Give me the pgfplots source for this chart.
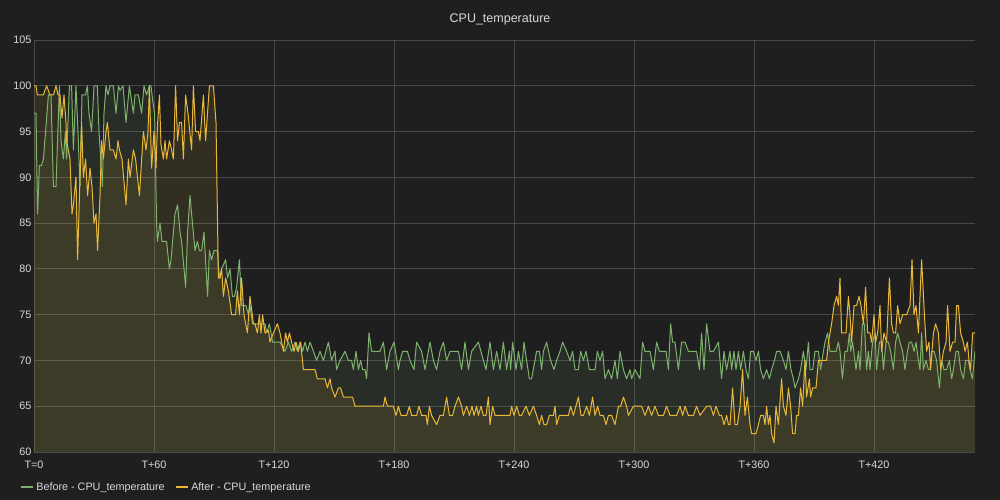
\documentclass[border=0pt]{standalone}
\usepackage{pgfplots}
\pgfplotsset{compat=1.18}
\usepackage{fontspec}
\setmainfont{Liberation Sans}
\definecolor{bg}{HTML}{1F1F20}
\definecolor{gridc}{HTML}{48484A}
\definecolor{txt}{HTML}{D8D9DA}
\definecolor{cgreen}{HTML}{7EB26D}
\definecolor{cyellow}{HTML}{EAB839}

\begin{document}
\begin{tikzpicture}[x=1pt,y=1pt]
\path[use as bounding box,fill=bg] (0,0) rectangle (1000,500);
\node[text=txt,font=\fontsize{12.5}{14}\selectfont] at (500,480.5) {CPU\_temperature};
\begin{axis}[
  at={(34pt,48pt)}, anchor=south west,
  scale only axis, width=941pt, height=412pt,
  xmin=0, xmax=470.5, ymin=60, ymax=105,
  axis line style={draw=none},
  tick style={draw=none},
  grid=major,
  major grid style={gridc, line width=0.8pt},
  xtick={0,60,120,180,240,300,360,420},
  xticklabels={T=0,T+60,T+120,T+180,T+240,T+300,T+360,T+420},
  ytick={60,65,...,105},
  /pgf/number format/assume math mode=true,
  ticklabel style={text=txt, font=\fontsize{10.8}{12}\selectfont},
  yticklabel style={xshift=1pt},
  xticklabel style={yshift=-5pt},
  legend columns=2,
  legend cell align=left,
  legend style={at={(-0.0185,-0.085)}, anchor=west, draw=none, fill=none,
    text=txt, font=\fontsize{10.8}{12}\selectfont,
    /tikz/every even column/.append style={column sep=8pt}},
  legend image code/.code={\draw[line width=2.5pt,#1] (0pt,0pt) -- (12pt,0pt);},
]
\pgfplotsset{
  before/.style={cgreen, line width=1pt, line join=round},
  after/.style={cyellow, line width=1pt, line join=round},
}
\def\before{(0,97) (1,97) (1.8,86) (2.7,91.3) (3.8,91.3) (4.7,92) (5.8,95) (7.2,99) (8.5,99) (9.7,89) (11,89) (12.7,100) (13.5,94) (14.7,92) (15.7,95) (16.3,92) (17.7,100) (18.8,100) (19.7,93) (21,100) (22,95) (23,89) (24,99) (25.7,99) (26.7,100) (27.5,97) (28.8,95) (30,100) (31.7,100) (32.5,95) (34.2,89) (35,97) (36,100) (37,99) (38,100) (39.7,100) (41,97) (42.2,100) (43,99.5) (44.5,100) (46,96) (47.7,100) (49.7,97) (50.5,99) (52.2,99) (53.8,97) (55,100) (56.3,99) (57.7,100) (58.5,100) (59.3,98.5) (60.3,97) (61.3,85) (61.7,83) (63,85) (64,83) (66.3,83) (67.7,80) (68.5,81) (70.5,86) (71.8,87) (73,84) (73.8,83) (75.8,78) (76.8,84) (78,88) (78.8,86) (80.5,82) (81.7,83) (82.7,82) (83.8,82) (85,84) (86.8,77) (87.7,82) (88.8,81) (90,82) (91.7,82) (92.7,79) (93.8,80) (95.8,81) (96.8,79) (98,80) (99.2,77) (100.2,77) (101.3,78) (102.7,81) (103.8,76) (106,76) (107.2,75) (108,76) (109.3,74) (110.5,74) (112.2,74) (113.8,74) (115.5,74) (116.3,73) (117.7,74) (118.5,73) (119.3,72) (121.3,72) (123,72) (125.5,71) (127.2,72) (128.8,71) (130.5,72) (131.7,71) (133,72) (134.3,71) (135.5,72) (136.7,71) (138,72) (139.7,71) (141.3,70) (143,71) (144.7,70) (147.2,72) (148.8,70) (150.5,71) (151.3,69) (153,70) (155.5,71) (157.2,70) (158.8,70) (159.7,69) (161,71) (162.2,69) (163.3,70) (164.3,69) (165.5,69) (166.3,68) (167.5,73) (168.8,71) (173,71) (174.7,72) (176.3,69) (178,71) (180,72) (182.2,69) (183,70) (184.3,71) (186.7,71) (188,70) (190,69) (191.3,72) (193.8,71) (195.5,69) (198,72) (199.7,70) (201.3,69) (203,71) (204.7,72) (206.3,70) (208,71) (212.2,71) (213.8,69) (215.5,72) (217.2,69) (218.8,71) (222.2,72) (224.7,70) (226,69) (228,72) (229.7,69) (231.3,71) (233,69) (234.7,72) (236.3,69) (237.7,71) (238.3,69) (239.3,72) (241,69) (242.2,71) (243.8,69) (245,72) (246.3,70) (247.7,68) (248.8,68) (251.3,71) (252.7,71) (253.8,69) (254.7,71) (256.3,72) (258.3,70) (260,69) (261.3,70) (263,71) (264.3,72) (266.3,71) (268,70) (269.3,71) (270.5,69) (272.2,69) (273.3,71) (274.7,70) (276,71) (277.7,69) (280.5,69) (281.7,71) (283,70) (284.3,71) (285.5,68) (287.2,69) (288.8,68) (290.5,70) (291.7,68) (293,71) (294.7,69) (296.3,68) (298,69) (298.8,68) (300.5,69) (303,68) (304.3,72) (305.5,71) (308,71) (309.7,69) (311.3,72) (312.7,71) (316,71) (317.2,69) (318.3,74) (319.3,72) (320.5,72) (322.2,69) (323.8,72) (325.5,72) (327.2,71) (331.3,71) (332.7,69) (333.8,73) (335,69) (336.3,74) (338,71) (339.7,71) (342.2,72) (343.8,68) (345,71) (346.3,69) (348,71) (348.8,69) (350,71) (351,69) (352.2,71) (353.3,69) (354.7,71) (356,69) (357.2,68) (358.3,71) (359.7,71) (361,70) (362.2,71) (363.3,69) (364.7,68) (366.3,69) (367.7,68) (368.8,69) (370.2,70) (371.3,71) (373,71) (374.7,70) (376,69) (377.2,71) (378.5,69) (379.7,68) (380.5,67) (382.2,68) (383.3,69) (384.7,71) (386,69) (387.2,72) (388,69) (389.3,69) (390.5,71) (392.2,71) (393.3,69) (394.7,71) (395.5,72) (396.8,73) (398,71) (400,71) (401,71) (402.2,72) (403,71) (404.2,68) (405.5,71) (406.7,71) (407.7,73) (408.3,71) (409.3,72) (411,69) (412.2,71) (413,69) (414.2,74) (415.2,74) (416.3,69) (417.2,71) (418,69) (419.3,72) (420.5,73) (421.3,69) (422.7,72) (423.8,72) (424.7,69) (426,72) (427.2,72) (428.3,71) (429.7,69) (430.8,72) (431.8,73) (433,72) (434.3,71) (435.5,69) (436.7,71) (437.7,72) (438.8,72) (440,71) (441,72) (442.2,70) (443,69) (443.8,73) (444.7,69) (446,70) (447.2,69) (448,69) (448.8,71) (450,71) (451.3,70) (452.7,67) (453.8,70) (455,69) (456.3,69) (457.7,70) (458.8,68) (459.7,69) (461,71) (462.2,71) (463.3,69) (464.7,68) (465.8,70) (467.2,70) (468,69) (469.2,68) (470.5,71)}
\def\after{(0,100) (1,100) (1.7,99) (4.7,99) (6.3,100) (8,99) (9.7,99) (11,100) (12,99) (13,99) (14,96.5) (15,99) (16,96) (16.3,94) (18,92) (19,86) (19.7,87) (21,90) (21.8,81) (23,90) (23.8,96) (24.7,90) (25.8,92) (26.8,88) (28,91) (29,89) (30,85) (31,86) (31.8,82) (33,88) (33.8,94) (34.7,92) (36,95) (36.7,96) (38,93) (39.7,93) (41,92) (42,94) (42.7,93) (44,92) (46,87) (47.2,92) (48,90) (49.7,93) (50.8,92) (52.7,88) (54.7,95) (56,93) (57,95) (57.7,100) (58.8,91) (60,95) (61,91) (61.7,95.5) (62.7,99) (63.5,93.6) (64.7,92) (65.5,94) (66.3,92) (67.7,94) (68.8,93) (69.7,92) (70.8,100) (71.8,94) (72.7,96) (73.8,96) (74.7,92) (75.8,99) (77,97) (78.8,93) (79.7,100) (80.8,95) (82.2,95) (83,94) (84.7,99) (85.8,94) (87.7,100) (89.7,100) (91,96) (92.2,79) (93,79) (93.8,80) (94.7,77) (95.8,79) (97.2,77.6) (98.8,75) (100.8,75) (101.7,77.6) (102.7,75) (103.8,79) (105,75) (106.7,73) (108,77) (109.7,74) (110.5,74) (111.7,73) (112.7,75) (113.5,73) (114.3,75) (115.5,73) (117.2,73.3) (118,72) (119.7,73) (121.7,74) (123,73) (124.7,71) (125.8,73) (126.7,72) (127.7,73) (128.8,72) (130,71) (131,72) (132.2,71) (133.3,72) (134.7,69) (140.5,69) (141.7,68) (145.5,68) (146.7,67) (148,68) (148.8,67) (150.5,66) (152.2,67) (153.3,67) (154.7,66) (159.3,66) (160.5,65) (174.7,65) (175.5,66) (176.7,65) (179.7,65) (181,64) (182.2,65) (183.5,64) (186.3,64) (187.7,65) (188.8,64) (191.3,64) (192.5,65) (193.8,64) (196,64) (196.7,63) (197.7,65) (198.8,64) (201.3,63) (203,64) (204.7,64) (206.3,66) (207.7,64) (209.3,64) (210.5,65) (212.2,66) (213.8,65) (214.7,64) (216.3,65) (217.7,64) (219,65) (220,64) (221.3,65) (222.2,64) (223.5,65) (224.7,64) (226,64) (227.2,66) (228,63) (229.3,65) (230.5,64) (238,64) (238.8,65) (240,64) (241.3,65) (242.7,64) (243.8,64) (246,65) (247.7,64) (249.7,65) (251.3,64) (252.7,63) (253.8,64) (255,63) (256.3,63) (257.7,64) (259.7,64) (260.5,65) (261.3,63) (262.7,64) (267.2,64) (268.3,65) (269.7,64) (272.2,66) (273.5,64) (274.7,64) (276.3,65) (277.7,64) (279.3,66) (280.5,64) (281.8,65) (283,64) (284.7,64) (286,63) (287.2,64) (288.8,64) (290.5,63) (292.2,65) (293.3,65) (294.7,66) (296.3,65) (297.2,64) (299.7,65) (303.8,65) (305.5,64) (307.2,65) (308.8,64) (310.5,65) (312.2,64) (314.7,64) (316.3,65) (318,64) (321.3,64) (323,65) (324.3,64) (325.5,65) (327.2,64) (329.7,64) (331.3,65) (333,64) (336.3,65) (338.3,65) (339.7,64) (341,65) (342.7,64) (343.8,64) (345,63) (346.3,64) (347.2,63) (348,63) (349.3,67) (350.5,63) (351.7,63) (353,65) (354.3,69) (355.5,64) (356.7,66) (358,63) (358.8,62) (361,62) (362.2,63) (363.3,64) (364.7,64) (365.5,63) (366.3,65) (367.2,63) (368,64) (368.8,62) (370,61) (371,65) (372.2,63) (373.8,68) (374.7,65) (376,64) (377.2,67) (378.3,65) (379.3,62) (380.5,62) (381.3,64) (382.2,64) (383.3,67) (384.3,65) (385.5,70) (386.3,66) (387.7,68) (388.3,66) (389.3,67) (391,67) (392.2,70) (393.8,70) (396.3,70) (397.2,72) (398.8,74) (400,76) (401.3,77) (402.2,76) (403,79) (403.8,73) (406,73) (407.2,77) (408,75) (408.8,72) (410,76) (411.3,76) (412.5,77) (413.5,76) (414.7,74) (415.8,78) (416.8,73) (418,73) (418.8,72) (420,75) (420.8,72) (421.8,73) (423,76) (423.8,71) (425,73) (426.3,72) (427.7,79) (428.8,74) (429.7,73) (430.8,73) (431.8,76) (433,74) (434.3,75) (436.3,75) (438,76) (439,81) (440,75) (441,76) (442.2,73) (443.8,81) (445.2,75) (446.3,71) (447.5,72) (448.3,69) (449.7,73) (450.8,74) (452.2,73) (453.3,69) (454.7,71) (456,72) (456.8,76) (458,71) (459.3,72) (460.5,72) (461.3,76) (462.2,76) (463.3,73) (464.7,72) (465.5,71) (466.7,72) (467.5,70) (468.3,69) (469.3,73) (470.5,73)}
\addplot[forget plot, draw=none, fill=cgreen, fill opacity=0.1] coordinates {\before} \closedcycle;
\addplot[forget plot, draw=none, fill=cyellow, fill opacity=0.1] coordinates {\after} \closedcycle;
\addplot[before] coordinates {\before};
\addplot[after] coordinates {\after};
\legend{Before - CPU\_temperature, After - CPU\_temperature}
\end{axis}
\end{tikzpicture}
\end{document}
